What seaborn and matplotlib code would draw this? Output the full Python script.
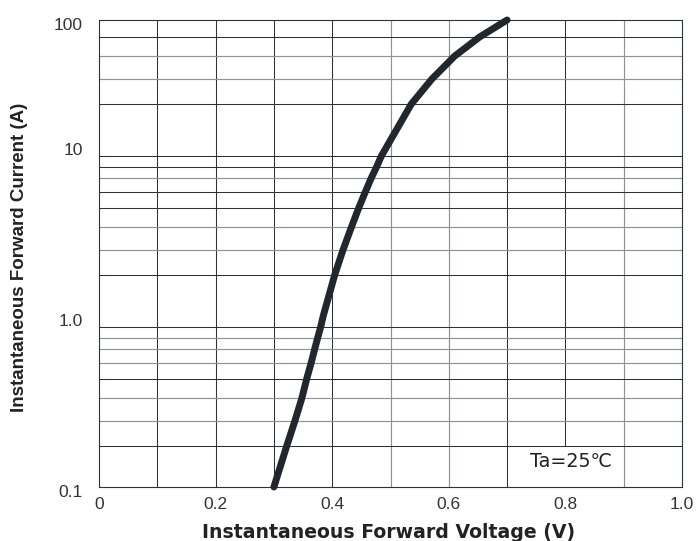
import numpy as np
import pandas as pd
import matplotlib
matplotlib.use("Agg")
import matplotlib.pyplot as plt
import seaborn as sns
from matplotlib.transforms import ScaledTranslation

# ---- data ----
voltage = [0.300, 0.322, 0.336, 0.348, 0.3562, 0.364, 0.370, 0.375, 0.3802, 0.3846,
           0.4043, 0.4185, 0.433, 0.4455, 0.457, 0.467, 0.476, 0.4844, 0.4952,
           0.5358, 0.571, 0.610, 0.653, 0.700]
current = [0.1, 0.2, 0.3, 0.4, 0.5, 0.6, 0.7, 0.8, 0.9, 1.0,
           2, 3, 4, 5, 6, 7, 8, 9, 10,
           20, 30, 40, 50, 100]

x_ticks = [0, 0.2, 0.4, 0.6, 0.8, 1.0]
x_tick_labels = ["0", "0.2", "0.4", "0.6", "0.8", "1.0"]
y_ticks = [0.1, 1, 10, 100]
y_tick_labels = ["0.1", "1.0", "10", "100"]
x_grid = [0.1, 0.2, 0.3, 0.4, 0.5, 0.6, 0.7, 0.8, 0.9]
y_grid = [0.2, 0.3, 0.4, 0.5, 0.6, 0.7, 0.8, 0.9,
          2, 3, 4, 5, 6, 7, 8, 9,
          20, 30, 40, 50]

# ---- styles ----
DARK = "#2d3239"
GRAY = "#8e9297"
x_grid_col = [DARK, DARK, DARK, DARK, GRAY, GRAY, DARK, DARK, GRAY]
y_grid_col = [DARK, GRAY, GRAY, DARK, GRAY, GRAY, GRAY, DARK,
              DARK, GRAY, GRAY, DARK, DARK, GRAY, DARK, DARK,
              DARK, GRAY, GRAY, DARK]

# ---- the chart's own (hand-drawn) logarithmic-like grid scale ----
dec = [0.0, 0.240, 0.386, 0.520, 0.632, 0.727, 0.807, 0.871, 0.936]
knot_vals = [0.1 * k for k in range(1, 10)] + [float(k) for k in range(1, 10)] + [10, 20, 30, 40, 50, 100]
knot_pos = dec + [1 + d for d in dec] + [2.0, 2.240, 2.386, 2.520, 2.632, 2.731]
knot_log = np.log10(knot_vals)


def fwd(y):
    y = np.asarray(y, dtype=float)
    return np.interp(np.log10(np.clip(y, 1e-9, None)), knot_log, knot_pos)


def inv(p):
    p = np.asarray(p, dtype=float)
    return 10 ** np.interp(p, knot_pos, knot_log)


sns.set_style("white")
plt.rcParams["font.family"] = ["Liberation Sans", "DejaVu Sans"]

fig = plt.figure(figsize=(6.97, 5.41), dpi=100)
ax = fig.add_axes([99 / 697, 54 / 541, 583 / 697, 467 / 541])
ax.set_yscale("function", functions=(fwd, inv))
ax.set_xlim(0, 1.0)
ax.set_ylim(0.1, 100)

# grid
for xv, c in zip(x_grid, x_grid_col):
    lo = 0.2 if abs(xv - 0.8) < 1e-9 else 0.1
    ax.vlines(xv, lo, 100, color=c, lw=0.85 if c == GRAY else 0.75, zorder=1)
for yv, c in zip(y_grid, y_grid_col):
    ax.hlines(yv, 0, 1.0, color=c, lw=0.85 if c == GRAY else 0.75, zorder=1)

df = pd.DataFrame({"V": voltage, "I": current})
sns.lineplot(data=df, x="V", y="I", sort=False, color="#22262d", lw=5.0,
             solid_capstyle="round", solid_joinstyle="round", ax=ax, zorder=3,
             clip_on=False)

for s in ax.spines.values():
    s.set_visible(True)
    s.set_color(DARK)
    s.set_linewidth(0.8)

ax.set_xticks(x_ticks)
ax.set_xticklabels(x_tick_labels)
ax.set_yticks(y_ticks)
ax.set_yticklabels(y_tick_labels)
ax.minorticks_off()
ax.tick_params(axis="both", length=0, labelsize=12.5, labelcolor="#333333")
ax.tick_params(axis="x", pad=7.5)
ax.tick_params(axis="y", pad=11.5)
off = ScaledTranslation(0, -0.04, fig.dpi_scale_trans)
for lab in ax.get_yticklabels():
    lab.set_transform(lab.get_transform() + off)

ax.set_xlabel("Instantaneous Forward Voltage (V)", fontsize=13.6, fontweight="bold",
              family=["DejaVu Sans"], color="#222222", va="center")
ax.xaxis.set_label_coords(0.496, -0.098)
ax.set_ylabel("Instantaneous Forward Current (A)", fontsize=13.5, fontweight="bold",
              family=["Liberation Sans"], color="#222222", va="center")
ax.yaxis.set_label_coords(-0.136, 0.491)

ax.text(0.81, 0.054, "Ta=25℃", transform=ax.transAxes, ha="center", va="center",
        fontsize=13.8, family=["DejaVu Sans"], color="#222222", zorder=4)

fig.savefig("out.png", dpi=100)
